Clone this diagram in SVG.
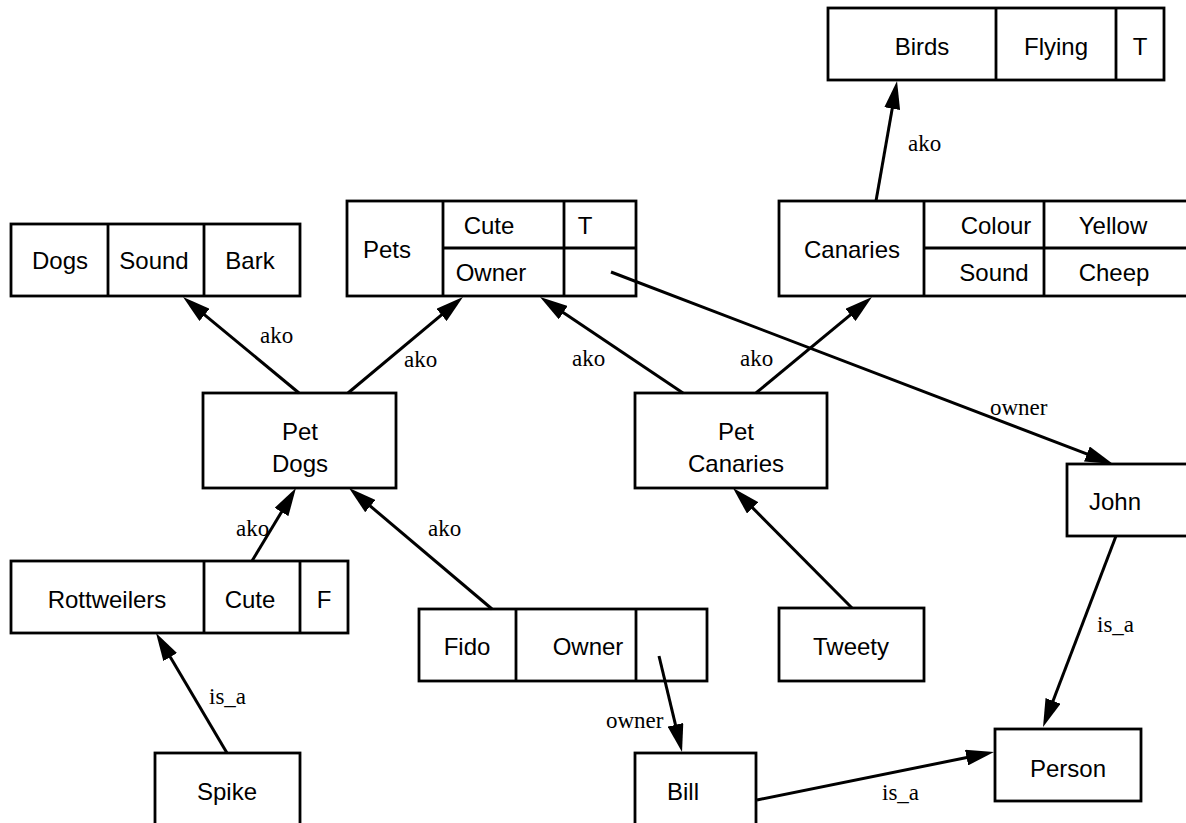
<svg xmlns="http://www.w3.org/2000/svg" width="1186" height="823" viewBox="0 0 1186 823">
<style>
.box{fill:#fff;stroke:#000;stroke-width:2.8}
.div{stroke:#000;stroke-width:2.8;fill:none}
.t{font-family:"Liberation Sans",Arial,sans-serif;font-size:24px;fill:#000;text-anchor:middle}
.e{stroke:#000;stroke-width:3;fill:none;marker-end:url(#ah)}
.l{font-family:"Liberation Serif","Times New Roman",serif;font-size:23px;fill:#000}
</style>
<defs>
<marker id="ah" viewBox="0 0 28 16" refX="18" refY="8" markerWidth="28" markerHeight="16" orient="auto" markerUnits="userSpaceOnUse">
<path d="M0,0 L28,8 L0,16 z" fill="#000"/>
</marker>
</defs>
<rect width="1186" height="823" fill="#fff"/>
<g id="birds">
<rect class="box" x="828" y="8" width="336" height="72"/>
<path class="div" d="M996,8V80M1116,8V80"/>
<text class="t" x="922" y="55">Birds</text>
<text class="t" x="1056" y="55">Flying</text>
<text class="t" x="1140" y="55">T</text>
</g>
<g id="dogs">
<rect class="box" x="11" y="224" width="289" height="72"/>
<path class="div" d="M108,224V296M204,224V296"/>
<text class="t" x="60" y="269">Dogs</text>
<text class="t" x="154" y="269">Sound</text>
<text class="t" x="250" y="269">Bark</text>
</g>
<g id="pets">
<rect class="box" x="347" y="201" width="289" height="95"/>
<path class="div" d="M443,201V296M564,201V296M443,248H636"/>
<text class="t" x="387" y="258">Pets</text>
<text class="t" x="489" y="234">Cute</text>
<text class="t" x="585" y="234">T</text>
<text class="t" x="491" y="281">Owner</text>
</g>
<g id="canaries">
<rect class="box" x="779" y="201" width="412" height="95"/>
<path class="div" d="M924,201V296M1044,201V296M924,248H1191"/>
<text class="t" x="852" y="258">Canaries</text>
<text class="t" x="996" y="234">Colour</text>
<text class="t" x="1113" y="234">Yellow</text>
<text class="t" x="994" y="281">Sound</text>
<text class="t" x="1114" y="281">Cheep</text>
</g>
<g id="pet-dogs">
<rect class="box" x="203" y="393" width="193" height="95"/>
<text class="t" x="300" y="440">Pet</text>
<text class="t" x="300" y="472">Dogs</text>
</g>
<g id="pet-canaries">
<rect class="box" x="635" y="393" width="192" height="95"/>
<text class="t" x="736" y="440">Pet</text>
<text class="t" x="736" y="472">Canaries</text>
</g>
<g id="john">
<rect class="box" x="1067" y="464" width="124" height="72"/>
<text class="t" x="1115" y="510">John</text>
</g>
<g id="rottweilers">
<rect class="box" x="11" y="561" width="337" height="72"/>
<path class="div" d="M204,561V633M300,561V633"/>
<text class="t" x="107" y="608">Rottweilers</text>
<text class="t" x="250" y="608">Cute</text>
<text class="t" x="324" y="608">F</text>
</g>
<g id="fido">
<rect class="box" x="419" y="609" width="288" height="72"/>
<path class="div" d="M516,609V681M636,609V681"/>
<text class="t" x="467" y="655">Fido</text>
<text class="t" x="588" y="655">Owner</text>
</g>
<g id="tweety">
<rect class="box" x="779" y="608" width="145" height="73"/>
<text class="t" x="851" y="655">Tweety</text>
</g>
<g id="person">
<rect class="box" x="995" y="729" width="146" height="72"/>
<text class="t" x="1068" y="777">Person</text>
</g>
<g id="spike">
<rect class="box" x="155" y="753" width="145" height="80"/>
<text class="t" x="227" y="800">Spike</text>
</g>
<g id="bill">
<rect class="box" x="635" y="753" width="121" height="80"/>
<text class="t" x="683" y="800">Bill</text>
</g>
<g id="connectors">
<line class="e" x1="876" y1="201" x2="895.3" y2="90.9"/>
<line class="e" x1="299" y1="393" x2="190.7" y2="303.4"/>
<line class="e" x1="348" y1="393" x2="455.3" y2="303.4"/>
<line class="e" x1="683" y1="393" x2="548.3" y2="302.6"/>
<line class="e" x1="756" y1="393" x2="864.3" y2="303.4"/>
<line class="e" x1="611" y1="272" x2="1103.7" y2="460.4"/>
<line class="e" x1="252" y1="561" x2="290.8" y2="496.6"/>
<line class="e" x1="492" y1="609" x2="356.6" y2="494.5"/>
<line class="e" x1="852" y1="608" x2="740" y2="495.1"/>
<line class="e" x1="227" y1="753" x2="161.1" y2="641.6"/>
<line class="e" x1="659" y1="656" x2="679.7" y2="742.3"/>
<line class="e" x1="757" y1="800" x2="984.2" y2="754"/>
<line class="e" x1="1116" y1="536" x2="1046.6" y2="717.7"/>
<text class="l" x="908" y="151">ako</text>
<text class="l" x="260" y="343">ako</text>
<text class="l" x="404" y="367">ako</text>
<text class="l" x="572" y="366">ako</text>
<text class="l" x="740" y="366">ako</text>
<text class="l" x="990" y="415">owner</text>
<text class="l" x="236" y="536">ako</text>
<text class="l" x="428" y="536">ako</text>
<text class="l" x="209" y="704">is_a</text>
<text class="l" x="606" y="728">owner</text>
<text class="l" x="882" y="800">is_a</text>
<text class="l" x="1097" y="632">is_a</text>
</g>
</svg>
